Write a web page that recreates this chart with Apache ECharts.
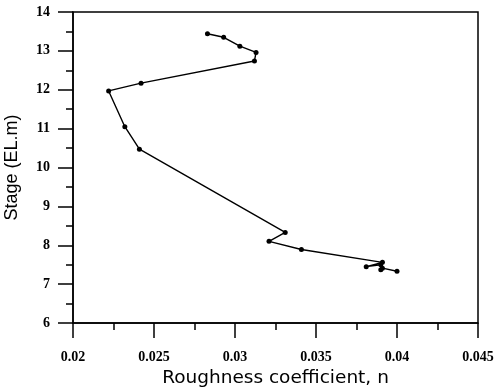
<!DOCTYPE html>
<html>
<head>
<meta charset="utf-8">
<script src="https://cdn.jsdelivr.net/npm/echarts@6/dist/echarts.min.js"></script>
<style>html,body{margin:0;padding:0;background:#fff}#c{width:496px;height:388px}</style>
</head>
<body>
<div id="c"></div>
<script>
var roughness = [0.0283,0.0293,0.0303,0.0313,0.0312,0.0242,0.0222,0.0232,0.0241,0.0331,0.0321,0.0341,0.0391,0.0381,0.0390,0.0391,0.0390,0.0400];
var stage = [13.44,13.35,13.12,12.96,12.74,12.17,11.97,11.05,10.47,8.33,8.10,7.89,7.56,7.45,7.50,7.41,7.37,7.33];
var xTitle = 'Roughness coefficient, n';
var yTitle = 'Stage (EL.m)';

var pts = roughness.map(function(v,i){return [v, stage[i]];});
var chart = echarts.init(document.getElementById('c'));
var serif = '"Liberation Serif", "DejaVu Serif", serif';
var sans = '"DejaVu Sans", "Liberation Sans", sans-serif';
chart.setOption({
  animation:false,
  grid:{left:73,right:18,top:12,bottom:65,containLabel:false,outerBoundsMode:'none',
    show:true,borderColor:'#000',borderWidth:1.5,backgroundColor:'transparent'},
  xAxis:{
    type:'value',min:0.02,max:0.045,interval:0.005,
    axisLine:{show:true,lineStyle:{color:'#000',width:1.5}},
    axisTick:{show:true,inside:false,length:15,lineStyle:{color:'#000',width:1.5}},
    minorTick:{show:true,splitNumber:2,length:7,lineStyle:{color:'#000',width:1.5}},
    splitLine:{show:false},
    axisLabel:{margin:27,color:'#000',fontFamily:serif,fontSize:14,fontWeight:'bold',
      formatter:function(v){return String(+v.toFixed(3));}},
    name:xTitle,nameLocation:'middle',nameGap:43,
    nameTextStyle:{color:'#000',fontFamily:sans,fontSize:18.5}
  },
  yAxis:{
    type:'value',min:6,max:14,interval:1,
    axisLine:{show:true,lineStyle:{color:'#000',width:1.5}},
    axisTick:{show:true,inside:false,length:15,lineStyle:{color:'#000',width:1.5}},
    minorTick:{show:true,splitNumber:2,length:7,lineStyle:{color:'#000',width:1.5}},
    splitLine:{show:false},
    axisLabel:{margin:23,color:'#000',fontFamily:serif,fontSize:14,fontWeight:'bold'},
    name:yTitle,nameLocation:'middle',nameGap:52,
    nameTextStyle:{color:'#000',fontFamily:'"Liberation Sans", Arial, sans-serif',fontSize:18}
  },
  series:[{
    type:'line',data:pts,symbol:'circle',symbolSize:5,
    lineStyle:{color:'#000',width:1.4},itemStyle:{color:'#000'}
  }]
});
</script>
</body>
</html>
